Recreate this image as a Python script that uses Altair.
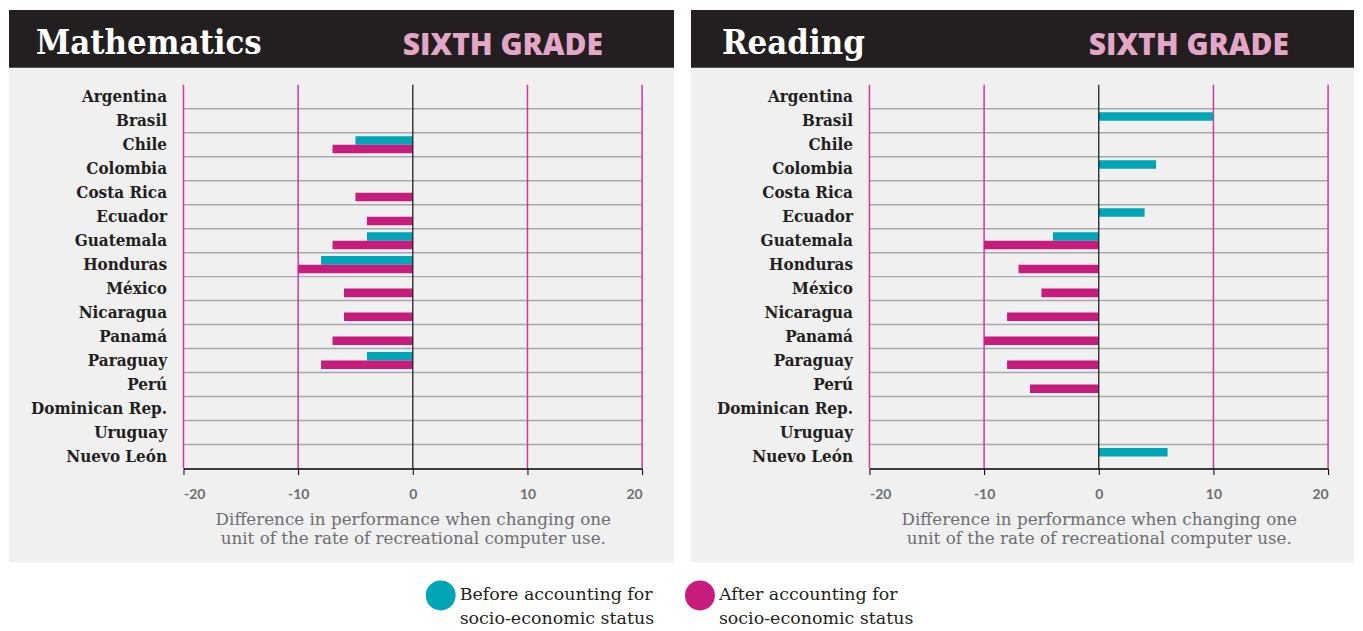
import altair as alt
import pandas as pd

countries = ["Argentina", "Brasil", "Chile", "Colombia", "Costa Rica", "Ecuador",
             "Guatemala", "Honduras", "México", "Nicaragua", "Panamá", "Paraguay",
             "Perú", "Dominican Rep.", "Uruguay", "Nuevo León"]
series = ["Before accounting for|socio-economic status",
          "After accounting for|socio-economic status"]

math_before = [None, None, -5, None, None, None, -4, -8, None, None, None, -4, None, None, None, None]
math_after = [None, None, -7, None, -5, -4, -7, -10, -6, -6, -7, -8, None, None, None, None]
read_before = [None, 10, None, 5, None, 4, -4, None, None, None, None, None, None, None, None, 6]
read_after = [None, None, None, None, None, None, -10, -7, -5, -8, -10, -8, -6, None, None, None]

x_ticks = [-20, -10, 0, 10, 20]
guide_lines = [-20, -10, 10, 20]
axis_title = ["Difference in performance when changing one",
              "unit of the rate of recreational computer use."]

TEAL = "#00a6b6"
MAGENTA = "#c81c7c"
PANEL_BG = "#f0f0f0"
HEADER_BG = "#231f20"
PINK = "#e3a6c6"
GRID = "#a7a9ac"
DARK = "#231f20"
GREY_TXT = "#6d6e71"

x_scale = alt.Scale(domain=[-20, 20], nice=False, zero=False)
y_scale = alt.Scale(domain=countries, paddingInner=0, paddingOuter=0)
color_scale = alt.Scale(domain=series, range=[TEAL, MAGENTA])

x_axis = alt.Axis(values=x_ticks, labelExpr="'' + datum.value",
                  grid=False, domainColor="black", tickColor="black",
                  tickSize=6, domainWidth=1.5, zindex=2,
                  labelFont="Lato", labelFontWeight="bold",
                  labelFontSize=14, labelColor=GREY_TXT,
                  labelPadding=13,
                  title=axis_title, titleFont="DejaVu Serif",
                  titleFontWeight="normal", titleFontSize=16.8,
                  titleColor=GREY_TXT, titlePadding=10,
                  titleLineHeight=19)
y_axis = alt.Axis(title=None, ticks=False, domain=False, zindex=2,
                  labelPadding=17, labelFont="DejaVu Serif Condensed",
                  labelFontWeight="bold", labelFontSize=17,
                  labelColor=DARK, grid=False)


def panel(subject, before, after, left_ext, right_ext):
    rows = []
    for c, b, a in zip(countries, before, after):
        if b is not None:
            rows.append({"country": c, "series": series[0], "value": b})
        if a is not None:
            rows.append({"country": c, "series": series[1], "value": a})
    df = pd.DataFrame(rows)
    one = pd.DataFrame({"k": [0]})

    bg = alt.Chart(one).mark_rect(color=PANEL_BG).encode(
        x=alt.value(left_ext), x2=alt.value(right_ext),
        y=alt.value(-17), y2=alt.value(479))
    header = alt.Chart(one).mark_rect(color=HEADER_BG).encode(
        x=alt.value(left_ext), x2=alt.value(right_ext),
        y=alt.value(-75), y2=alt.value(-17))
    title = alt.Chart(one).mark_text(
        text=subject, color="white", font="DejaVu Serif Condensed",
        fontWeight="bold", fontSize=34.5, align="left", baseline="alphabetic").encode(
        x=alt.value(-148), y=alt.value(-31))
    grade = alt.Chart(one).mark_text(
        text="SIXTH GRADE", color=PINK, font="Open Sans", fontWeight=800,
        fontSize=30, align="left", baseline="alphabetic").encode(
        x=alt.value(220), y=alt.value(-30))

    hgrid = alt.Chart(pd.DataFrame({"country": countries[1:]})).mark_rule(
        color=GRID, strokeWidth=1.5).encode(
        y=alt.Y("country:N", bandPosition=0, scale=y_scale, axis=y_axis))
    vgrid = alt.Chart(pd.DataFrame({"value": guide_lines})).mark_rule(
        color="#d6359a", strokeWidth=1.5).encode(
        x=alt.X("value:Q", scale=x_scale, axis=x_axis))
    zero = alt.Chart(pd.DataFrame({"value": [0]})).mark_rule(
        color="#231f20", strokeWidth=1.3).encode(
        x=alt.X("value:Q", scale=x_scale, axis=x_axis))

    bars = alt.Chart(df).mark_bar().encode(
        x=alt.X("value:Q", scale=x_scale, axis=x_axis),
        y=alt.Y("country:N", scale=y_scale, axis=y_axis),
        yOffset=alt.YOffset("series:N", sort=series,
                            scale=alt.Scale(domain=series, paddingInner=0,
                                            paddingOuter=0.41)),
        color=alt.Color("series:N", scale=color_scale,
                        legend=alt.Legend(orient="none", legendX=243, legendY=497,
                                          direction="horizontal", columns=2,
                                          title=None, symbolType="circle",
                                          symbolSize=900, symbolStrokeWidth=0,
                                          symbolOpacity=1,
                                          labelExpr="split(datum.label, '|')",
                                          labelFont="DejaVu Serif", labelFontSize=17.5,
                                          labelColor=DARK, labelLimit=400,
                                          columnPadding=30, labelOffset=4,
                                          padding=0)),
    )

    return alt.layer(bg, header, title, grade, hgrid, vgrid, bars, zero).properties(
        width=460, height=385)


left = panel("Mathematics", math_before, math_after, -175, 492)
right = panel("Reading", read_before, read_after, -179, 486)

chart = alt.hconcat(left, right, spacing=15).properties(
    padding=0, background="white"
).configure_view(stroke=None).configure(
    style={"guide-label": {"lineHeight": 24}}
)

chart.save("out.html", embed_options={"renderer": "svg", "actions": False})
